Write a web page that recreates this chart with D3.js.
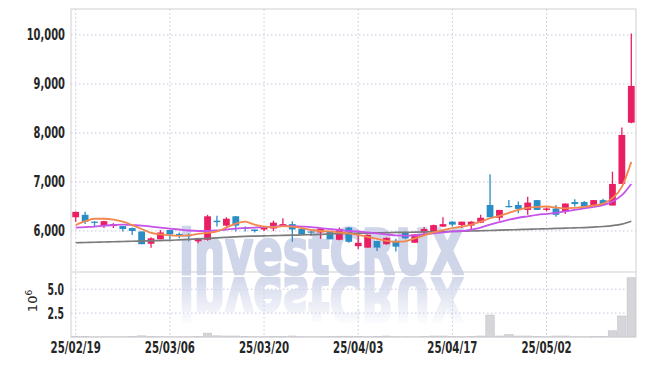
<!DOCTYPE html>
<html>
<head>
<meta charset="utf-8">
<script src="https://cdn.jsdelivr.net/npm/d3@7"></script>
<style>
  body { margin: 0; background: #fff; }
  text { font-family: "DejaVu Sans", sans-serif; font-weight: bold; fill: #262626; }
</style>
</head>
<body>
<svg id="chart" width="645" height="366"></svg>
<script>
// trading days (yy/mm/dd)
const dates = [
  "25/02/19","25/02/20","25/02/21","25/02/24","25/02/25","25/02/26","25/02/27","25/02/28","25/03/04","25/03/05",
  "25/03/06","25/03/07","25/03/10","25/03/11","25/03/12","25/03/13","25/03/14","25/03/17","25/03/18","25/03/19",
  "25/03/20","25/03/21","25/03/24","25/03/25","25/03/26","25/03/27","25/03/28","25/03/31","25/04/01","25/04/02",
  "25/04/03","25/04/04","25/04/07","25/04/08","25/04/09","25/04/10","25/04/11","25/04/14","25/04/15","25/04/16",
  "25/04/17","25/04/18","25/04/21","25/04/22","25/04/23","25/04/24","25/04/25","25/04/28","25/04/29","25/04/30",
  "25/05/02","25/05/07","25/05/08","25/05/09","25/05/12","25/05/13","25/05/14","25/05/15","25/05/16","25/05/19"
];
const openP = [
  6280,6330,6190,6120,6100,6100,6060,5990,5740,5830,
  6020,5940,5920,5790,5820,6210,6110,6300,6070,6030,
  6030,6050,6100,6140,6040,5990,5970,6000,5820,6070,
  5690,5660,5800,5730,5800,5970,5760,5970,5990,6090,
  6190,6120,6110,6170,6530,6270,6510,6530,6430,6630,
  6430,6460,6390,6590,6590,6530,6630,6520,6960,8210
];
const highP = [
  6400,6390,6200,6210,6160,6100,6070,5990,5870,6020,
  6020,5970,5950,5860,6330,6310,6280,6300,6090,6030,
  6100,6210,6260,6200,6040,6020,6060,6000,6070,6080,
  5970,5930,5800,5870,5840,5990,5940,6080,6130,6280,
  6200,6190,6200,6330,7160,6430,6630,6600,6700,6630,
  6480,6530,6560,6650,6610,6630,6660,7210,8110,10030
];
const lowP = [
  6190,6140,6100,6060,6060,5990,5920,5730,5660,5830,
  5820,5850,5790,5750,5800,6090,6090,5990,5990,5970,
  6000,6000,6090,5780,5930,5900,5840,5830,5810,5760,
  5630,5660,5590,5720,5580,5830,5760,5900,5980,6080,
  6090,6060,6020,6160,6280,6210,6480,6360,6330,6430,
  6400,6290,6350,6500,6480,6530,6530,6520,6960,8200
];
const closeP = [
  6390,6190,6170,6200,6140,6040,6000,5730,5850,5970,
  5930,5920,5900,5850,6300,6180,6250,6110,6050,6000,
  6090,6170,6140,6030,5930,5970,6050,5830,6040,5780,
  5760,5920,5660,5860,5680,5850,5930,6040,6120,6140,
  6130,6190,6190,6270,6280,6430,6490,6450,6580,6430,
  6460,6330,6560,6550,6500,6630,6550,6960,7960,8960
];
// volume, millions of shares
const volume = [
  0.08,0.06,0.02,0.03,0.02,0.02,0.05,0.12,0.05,0.03,
  0.02,0.02,0.02,0.04,0.40,0.12,0.10,0.10,0.05,0.03,
  0.03,0.04,0.05,0.10,0.03,0.02,0.03,0.05,0.08,0.08,
  0.06,0.03,0.05,0.10,0.03,0.03,0.02,0.05,0.10,0.10,
  0.04,0.03,0.05,0.10,2.30,0.10,0.25,0.10,0.10,0.05,
  0.03,0.10,0.10,0.03,0.03,0.04,0.05,0.65,2.20,6.20
];
// moving average lines
const maShort = [
  6120,6200,6250,6250,6230,6190,6120,6040,5960,5930,
  5910,5900,5910,5940,5960,5990,6070,6150,6190,6130,
  6090,6080,6100,6090,6060,6020,6000,5990,5970,5950,
  5920,5880,5840,5800,5780,5790,5850,5910,5970,6020,
  6060,6090,6130,6190,6260,6310,6370,6430,6470,6490,
  6500,6480,6460,6470,6490,6520,6560,6670,6900,7410
];
const maMid = [
  6070,6080,6090,6110,6120,6130,6120,6110,6090,6070,
  6050,6030,6010,6000,6000,6010,6030,6050,6060,6070,
  6080,6090,6100,6100,6090,6080,6060,6040,6020,6000,
  5990,5970,5950,5930,5910,5900,5910,5930,5950,5970,
  5990,6000,6030,6070,6130,6180,6230,6270,6300,6330,
  6350,6370,6400,6430,6460,6490,6530,6600,6730,6960
];
const maLong = [
  5760,5765,5770,5775,5780,5785,5790,5795,5800,5805,
  5810,5820,5830,5840,5850,5860,5870,5880,5890,5895,
  5900,5905,5910,5915,5920,5925,5930,5940,5945,5950,
  5955,5958,5962,5966,5970,5973,5976,5980,5984,5988,
  5992,5996,6000,6005,6010,6016,6022,6028,6034,6040,
  6046,6052,6058,6064,6070,6080,6092,6110,6140,6200
];
const priceTicks = [6000, 7000, 8000, 9000, 10000];
const volTicks = [2.5, 5.0];
const dateTicks = ["25/02/19","25/03/06","25/03/20","25/04/03","25/04/17","25/05/02"];

const svg = d3.select("#chart");
const pLeft = 71, pRight = 636, pTop = 9, pSplit = 272, pBottom = 337;
const upColor = "#e91e63", downColor = "#2b8dc6";

const x = d3.scaleBand().domain(dates).range([pLeft, pRight]).padding(0);
const cx = (d) => x(d) + x.bandwidth() / 2;
const y = d3.scaleLinear().domain([5163, 10530]).range([pSplit, pTop]);
const yv = d3.scaleLinear().domain([0, 6.8]).range([pBottom, pSplit]);

const grid = svg.append("g").attr("stroke", "#c4c7dd").attr("stroke-dasharray", "1.5,2.5");
grid.selectAll("line.h").data(priceTicks).join("line").attr("class", "h")
  .attr("x1", pLeft).attr("x2", pRight).attr("y1", (d) => y(d)).attr("y2", (d) => y(d));
grid.selectAll("line.v").data(volTicks).join("line").attr("class", "v")
  .attr("x1", pLeft).attr("x2", pRight).attr("y1", (d) => yv(d)).attr("y2", (d) => yv(d));
grid.selectAll("line.d").data(dateTicks).join("line").attr("class", "d")
  .attr("x1", cx).attr("x2", cx).attr("y1", pTop).attr("y2", pBottom);

// watermark + its reflection
const defs = svg.append("defs");
const grad = defs.append("linearGradient").attr("id", "fade").attr("x1", 0).attr("y1", 0).attr("x2", 0).attr("y2", 1);
grad.append("stop").attr("offset", "0").attr("stop-color", "#fff").attr("stop-opacity", 0.95);
grad.append("stop").attr("offset", "1").attr("stop-color", "#fff").attr("stop-opacity", 0.05);
defs.append("mask").attr("id", "m").attr("maskContentUnits", "userSpaceOnUse")
  .append("rect").attr("x", 0).attr("y", 277).attr("width", 645).attr("height", 47).attr("fill", "url(#fade)");
const wm = svg.append("g");
const wmText = (g) => g.append("text").attr("x", 179).attr("y", 274)
  .attr("textLength", 285).attr("lengthAdjust", "spacingAndGlyphs")
  .style("font-size", "63px").style("font-weight", "bold").style("fill", "#d0d6ea")
  .style("stroke", "#d0d6ea").style("stroke-width", 2.6).style("stroke-linejoin", "round")
  .style("font-family", "'DejaVu Sans', sans-serif").text("investCRUX");
wmText(wm);
wmText(wm.append("g").attr("mask", "url(#m)").append("g").attr("transform", "translate(0,551) scale(1,-1)"));

// volume bars
svg.append("g").selectAll("rect").data(dates).join("rect")
  .attr("x", (d) => x(d) + 0.5)
  .attr("width", x.bandwidth() - 1)
  .attr("y", (d, i) => yv(volume[i]))
  .attr("height", (d, i) => pBottom - yv(volume[i]))
  .attr("fill", "#d6d6da").attr("stroke", "#c2c2c8").attr("stroke-width", 0.6);

// candles
const bw = x.bandwidth() * 0.72;
const candles = svg.append("g").selectAll("g").data(dates).join("g")
  .attr("stroke", (d, i) => closeP[i] >= openP[i] ? upColor : downColor)
  .attr("fill", (d, i) => closeP[i] >= openP[i] ? upColor : downColor);
candles.append("line")
  .attr("x1", cx).attr("x2", cx)
  .attr("y1", (d, i) => y(highP[i])).attr("y2", (d, i) => y(lowP[i]))
  .attr("stroke-width", 1.3);
candles.append("rect")
  .attr("x", (d) => cx(d) - bw / 2).attr("width", bw)
  .attr("y", (d, i) => y(Math.max(openP[i], closeP[i])))
  .attr("height", (d, i) => Math.max(1.2, Math.abs(y(openP[i]) - y(closeP[i]))))
  .attr("stroke", "none");

// moving averages
const lineOf = (vals) => d3.line().x((d, i) => cx(dates[i])).y((d) => y(d)).curve(d3.curveMonotoneX)(vals);
svg.append("path").attr("d", lineOf(maLong)).attr("fill", "none").attr("stroke", "#7b7b7b").attr("stroke-width", 1.7);
svg.append("path").attr("d", lineOf(maMid)).attr("fill", "none").attr("stroke", "#c653ea").attr("stroke-width", 1.8);
svg.append("path").attr("d", lineOf(maShort)).attr("fill", "none").attr("stroke", "#f2884e").attr("stroke-width", 1.8);

// frame
const frame = svg.append("g").attr("stroke", "#cfcfd4").attr("fill", "none");
frame.append("rect").attr("x", pLeft).attr("y", pTop).attr("width", pRight - pLeft).attr("height", pBottom - pTop);
frame.append("line").attr("x1", pLeft).attr("x2", pRight).attr("y1", pSplit).attr("y2", pSplit);

// squeeze tick labels to the narrow look of the original
function squeeze(sel, k) {
  sel.each(function () { this.setAttribute("textLength", this.getComputedTextLength() * k); })
    .attr("lengthAdjust", "spacingAndGlyphs");
}

const yAxis = svg.append("g").attr("transform", `translate(${pLeft},0)`)
  .call(d3.axisLeft(y).tickValues(priceTicks).tickSize(0).tickPadding(6).tickFormat(d3.format(",")));
yAxis.select(".domain").remove();
yAxis.selectAll("text").style("font-size", "15.5px").call(squeeze, 0.64);

const vAxis = svg.append("g").attr("transform", `translate(${pLeft},0)`)
  .call(d3.axisLeft(yv).tickValues(volTicks).tickSize(0).tickPadding(7).tickFormat(d3.format(".1f")));
vAxis.select(".domain").remove();
vAxis.selectAll("text").style("font-size", "15.5px").call(squeeze, 0.6);

const xAxis = svg.append("g").attr("transform", `translate(0,${pBottom})`)
  .call(d3.axisBottom(x).tickValues(dateTicks).tickSize(0).tickPadding(5));
xAxis.select(".domain").remove();
xAxis.selectAll("text").style("font-size", "15.5px").call(squeeze, 0.66);

const unit = svg.append("text").attr("transform", "translate(37,301) rotate(-90)")
  .attr("text-anchor", "middle").style("font-size", "13px").style("font-weight", "normal");
unit.append("tspan").text("10");
unit.append("tspan").attr("dy", -5).style("font-size", "9px").text("6");
</script>
</body>
</html>
